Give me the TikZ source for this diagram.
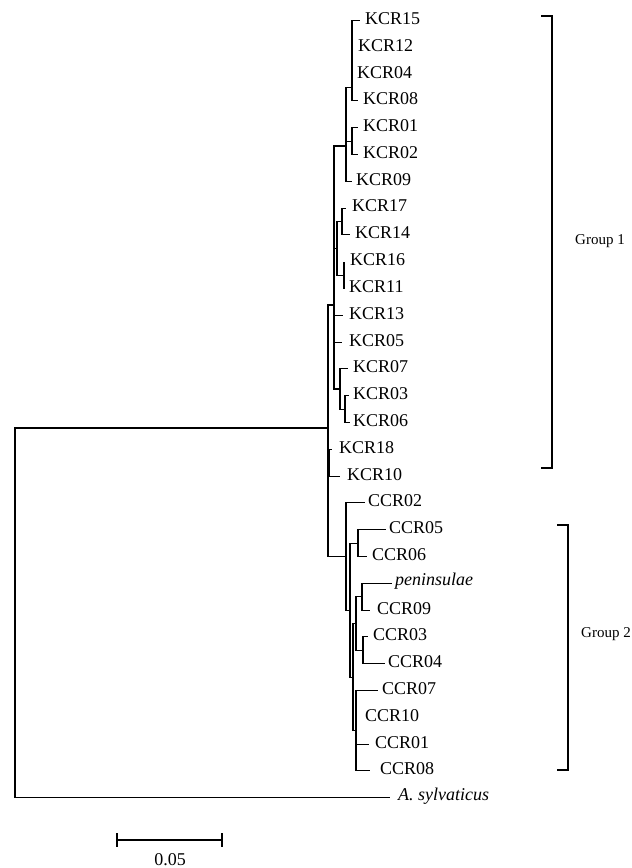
\documentclass[tikz,border=0pt]{standalone}
\usepackage{fontspec}
\setmainfont{Liberation Serif}
\begin{document}
\begin{tikzpicture}[x=1pt,y=-1pt,
  br/.style={line width=1.1pt},
  lab/.style={anchor=west, inner sep=0pt, font=\fontsize{18}{20}\selectfont, yshift=2pt},
  grp/.style={anchor=west, inner sep=0pt, font=\fontsize{15}{17}\selectfont}]
\useasboundingbox (0,0) rectangle (632,868);
% leaves: name, tip x, line y, label x, text
\newcommand{\leaf}[5]{\coordinate (#1) at (#2,#3); \node[lab] (#1-l) at (#4,#3) {#5};}
\leaf{KCR15}{360}{20.5}{365}{KCR15}
\leaf{KCR12}{352}{47.3}{358}{KCR12}
\leaf{KCR04}{352}{74.1}{357}{KCR04}
\leaf{KCR08}{358}{100.9}{363}{KCR08}
\leaf{KCR01}{358}{127.7}{363}{KCR01}
\leaf{KCR02}{358}{154.5}{363}{KCR02}
\leaf{KCR09}{352}{181.3}{356}{KCR09}
\leaf{KCR17}{346}{208.1}{352}{KCR17}
\leaf{KCR14}{350}{234.9}{355}{KCR14}
\leaf{KCR16}{344}{261.7}{350}{KCR16}
\leaf{KCR11}{344}{288.5}{349}{KCR11}
\leaf{KCR13}{343}{315.3}{349}{KCR13}
\leaf{KCR05}{342}{342.1}{349}{KCR05}
\leaf{KCR07}{348}{368.9}{353}{KCR07}
\leaf{KCR03}{349}{395.7}{353}{KCR03}
\leaf{KCR06}{350}{422.5}{353}{KCR06}
\leaf{KCR18}{332}{449.3}{339}{KCR18}
\leaf{KCR10}{340}{476.1}{347}{KCR10}
\leaf{CCR02}{365}{502.9}{368}{CCR02}
\leaf{CCR05}{386}{529.7}{389}{CCR05}
\leaf{CCR06}{367}{556.5}{372}{CCR06}
\leaf{PEN}{392}{583.3}{395}{\textit{peninsulae}}
\leaf{CCR09}{370}{610.1}{377}{CCR09}
\leaf{CCR03}{368}{636.9}{373}{CCR03}
\leaf{CCR04}{385}{663.7}{388}{CCR04}
\leaf{CCR07}{378}{690.5}{382}{CCR07}
\leaf{CCR10}{357}{717.3}{365}{CCR10}
\leaf{CCR01}{369}{744.1}{375}{CCR01}
\leaf{CCR08}{370}{770.9}{380}{CCR08}
\leaf{ASYL}{390}{797.7}{398}{\textit{A. sylvaticus}}
% internal nodes
\coordinate (C1a) at (352,87.5);
\coordinate (C1b) at (352,141.1);
\coordinate (C1) at (346,146);
\coordinate (C2a) at (342,221.5);
\coordinate (C2b) at (344,275.1);
\coordinate (C2) at (337,248.3);
\coordinate (C3a) at (345,409.1);
\coordinate (C3) at (340,389);
\coordinate (G1) at (334,305);
\coordinate (K18) at (329,462.7);
\coordinate (CC56) at (358,543.1);
\coordinate (P9) at (362,596.7);
\coordinate (C34) at (363,650.3);
\coordinate (PC) at (356,623.5);
\coordinate (D) at (356,730.7);
\coordinate (B) at (353,677.1);
\coordinate (A) at (350,610.1);
\coordinate (G2) at (346,556.5);
\coordinate (I) at (328,428);
\coordinate (R) at (15,612.85);
% edges
\foreach \c in {KCR15,KCR12,KCR04,KCR08} \draw[br] (C1a) |- (\c);
\foreach \c in {KCR01,KCR02} \draw[br] (C1b) |- (\c);
\foreach \c in {C1a,C1b,KCR09} \draw[br] (C1) |- (\c);
\foreach \c in {KCR17,KCR14} \draw[br] (C2a) |- (\c);
\foreach \c in {KCR16,KCR11} \draw[br] (C2b) |- (\c);
\foreach \c in {C2a,C2b} \draw[br] (C2) |- (\c);
\foreach \c in {KCR03,KCR06} \draw[br] (C3a) |- (\c);
\foreach \c in {KCR07,C3a} \draw[br] (C3) |- (\c);
\foreach \c in {C1,C2,KCR13,KCR05,C3} \draw[br] (G1) |- (\c);
\foreach \c in {KCR18,KCR10} \draw[br] (K18) |- (\c);
\foreach \c in {CCR05,CCR06} \draw[br] (CC56) |- (\c);
\foreach \c in {PEN,CCR09} \draw[br] (P9) |- (\c);
\foreach \c in {CCR03,CCR04} \draw[br] (C34) |- (\c);
\foreach \c in {P9,C34} \draw[br] (PC) |- (\c);
\foreach \c in {CCR07,CCR10,CCR01,CCR08} \draw[br] (D) |- (\c);
\foreach \c in {PC,D} \draw[br] (B) |- (\c);
\foreach \c in {CC56,B} \draw[br] (A) |- (\c);
\foreach \c in {CCR02,A} \draw[br] (G2) |- (\c);
\foreach \c in {G1,K18,G2} \draw[br] (I) |- (\c);
\foreach \c in {I,ASYL} \draw[br] (R) |- (\c);
% group brackets
\coordinate (g1t) at (541,16); \coordinate (g1b) at (541,468);
\draw[br] (g1t) -- (552,16) -- (552,468) -- (g1b);
\node[grp] (g1l) at (575,241) {Group 1};
\coordinate (g2t) at (557,525); \coordinate (g2b) at (557,770);
\draw[br] (g2t) -- (568,525) -- (568,770) -- (g2b);
\node[grp] (g2l) at (581,634) {Group 2};
% scale bar
\coordinate (s1) at (117,840); \coordinate (s2) at (222,840);
\draw[br] (s1) -- (s2);
\draw[br] (117,833) -- (117,847);
\draw[br] (222,833) -- (222,847);
\node[anchor=north, inner sep=0pt, font=\fontsize{18}{20}\selectfont] (sl) at (170,853) {0.05};
\end{tikzpicture}
\end{document}
